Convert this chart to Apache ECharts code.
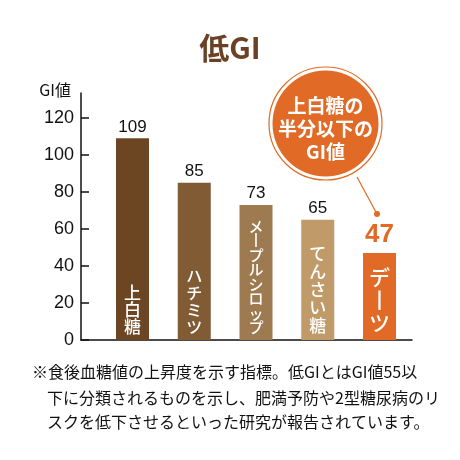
<!DOCTYPE html>
<html>
<head>
<meta charset="utf-8">
<script src="https://cdn.jsdelivr.net/npm/echarts@6/dist/echarts.min.js"></script>
<style>
  html, body { margin: 0; padding: 0; background: #fff; }
  #chart { width: 460px; height: 460px; }
</style>
</head>
<body>
<div id="chart"></div>
<script>
// data
const categories = ['上白糖', 'ハチミツ', 'メープルシロップ', 'てんさい糖', 'デーツ']
const giValues = [109, 85, 73, 65, 47]
const yTicks = [0, 20, 40, 60, 80, 100, 120]

const titleText = '低GI'
const yName = 'GI値'
const bubbleLines = ['上白糖の', '半分以下の', 'GI値']
const noteLines = [
  '※食後血糖値の上昇度を示す指標。低GIとはGI値55以',
  '下に分類されるものを示し、肥満予防や2型糖尿病のリ',
  'スクを低下させるといった研究が報告されています。'
]

// styles
const barColors = ['#6c4623', '#815b33', '#9d7a4f', '#c09a68', '#e06a26']
const nameSizes = [17, 16, 15, 17, 21]
const nameLineHeights = [17, 17, 14.5, 18, 23]
const orange = '#e06a26'
const jp = '"Noto Sans CJK JP", "Noto Sans", sans-serif'
const num = '"Liberation Sans", Arial, sans-serif'

const chart = echarts.init(document.getElementById('chart'))

const valueData = giValues.map((v, i) => {
  const item = { value: [i, v], itemStyle: { color: barColors[i] } }
  if (categories[i] === 'デーツ') {
    item.label = { color: orange, fontSize: 26, fontWeight: 'bold', distance: 5 }
  }
  return item
})

const nameData = giValues.map((v, i) => ({
  value: [i, v],
  label: { fontSize: nameSizes[i], lineHeight: nameLineHeights[i] }
}))

const option = {
  animation: false,
  title: {
    text: titleText,
    left: 'center',
    top: 28,
    textStyle: { color: '#6b4125', fontSize: 30, fontWeight: 'bold', fontFamily: jp }
  },
  grid: { left: 81, right: 48, top: 93, bottom: 120 },
  xAxis: {
    type: 'value',
    min: -0.834,
    max: 4.526,
    axisLine: { show: true, onZero: false, lineStyle: { color: '#111', width: 1.5 } },
    axisTick: { show: false },
    axisLabel: { show: false },
    splitLine: { show: false }
  },
  yAxis: {
    type: 'value',
    min: 0,
    max: 133.5,
    name: yName,
    nameLocation: 'end',
    nameGap: 3,
    nameTextStyle: {
      color: '#111', fontSize: 16, fontFamily: jp,
      align: 'right', verticalAlign: 'middle', padding: [0, 10, 0, 0]
    },
    axisLine: { show: true, onZero: false, lineStyle: { color: '#111', width: 1.5 } },
    axisTick: { show: true, inside: true, length: 8, customValues: yTicks, lineStyle: { color: '#111', width: 1.5 } },
    axisLabel: { customValues: yTicks, color: '#111', fontSize: 18, fontFamily: num, margin: 7 },
    splitLine: { show: false }
  },
  series: [
    {
      type: 'bar',
      barWidth: 33,
      barGap: '-100%',
      data: valueData,
      label: {
        show: true,
        position: 'top',
        distance: 3,
        color: '#111',
        fontSize: 17,
        fontFamily: num,
        formatter: p => p.value[1]
      }
    },
    {
      type: 'bar',
      barWidth: 33,
      barGap: '-100%',
      silent: true,
      itemStyle: { color: 'rgba(0,0,0,0)' },
      data: nameData,
      label: {
        show: true,
        position: 'insideBottom',
        distance: 5,
        color: '#fff',
        fontFamily: jp,
        fontWeight: 500,
        formatter: p => categories[p.dataIndex].replace(/ー/g, '丨').split('').join('\n')
      }
    }
  ],
  graphic: [
    // callout bubble
    { type: 'line', shape: { x1: 357, y1: 177, x2: 377, y2: 214 }, style: { stroke: orange, lineWidth: 1.2 } },
    { type: 'circle', shape: { cx: 377, cy: 214, r: 3 }, style: { fill: orange } },
    { type: 'circle', shape: { cx: 325.5, cy: 123.5, r: 56.5 }, style: { fill: '#fff', stroke: orange, lineWidth: 1.2 } },
    { type: 'circle', shape: { cx: 325.5, cy: 123.5, r: 53 }, style: { fill: orange } },
    {
      type: 'text', x: 325.5, y: 129,
      style: {
        text: bubbleLines.join('\n'), fill: '#fff', font: 'bold 19px ' + jp,
        lineHeight: 23, align: 'center', verticalAlign: 'middle'
      }
    },
    // footnote
    { type: 'text', x: 32, y: 372, style: { text: noteLines[0], fill: '#111', font: '16px ' + jp, verticalAlign: 'middle' } },
    { type: 'text', x: 47, y: 398, style: { text: noteLines[1], fill: '#111', font: '16px ' + jp, verticalAlign: 'middle' } },
    { type: 'text', x: 47, y: 422, style: { text: noteLines[2], fill: '#111', font: '16px ' + jp, verticalAlign: 'middle' } }
  ]
}

chart.setOption(option)
</script>
</body>
</html>
